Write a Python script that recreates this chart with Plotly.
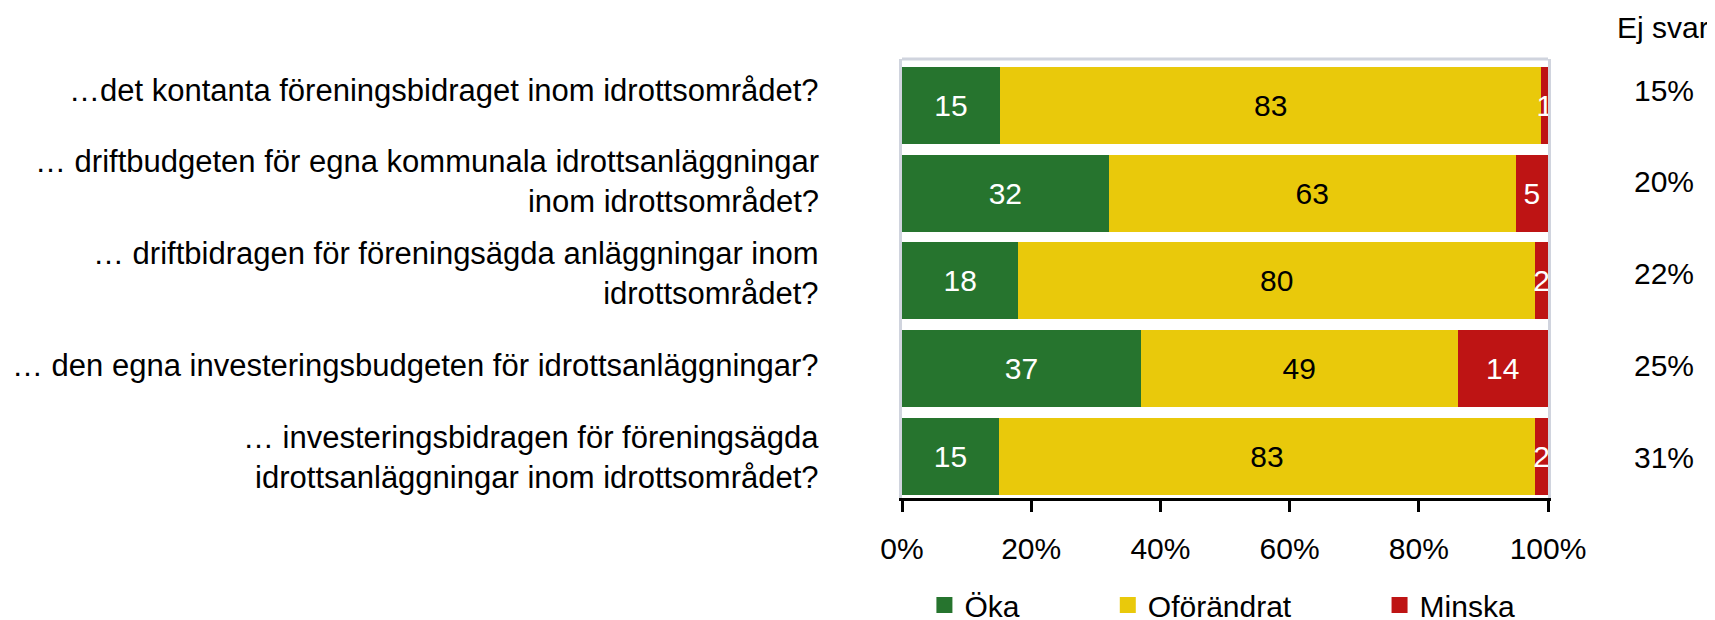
import plotly.graph_objects as go

categories = [
    "…det kontanta föreningsbidraget inom idrottsområdet?",
    "… driftbudgeten för egna kommunala idrottsanläggningar<br>inom idrottsområdet?",
    "… driftbidragen för föreningsägda anläggningar inom<br>idrottsområdet?",
    "… den egna investeringsbudgeten för idrottsanläggningar?",
    "… investeringsbidragen för föreningsägda<br>idrottsanläggningar inom idrottsområdet?",
]
oka = [15, 32, 18, 37, 15]
oforandrat = [83, 63, 80, 49, 83]
minska = [1, 5, 2, 14, 2]
ej_svar = [15, 20, 22, 25, 31]
tick_vals = [0, 20, 40, 60, 80, 100]
tick_text = ["0%", "20%", "40%", "60%", "80%", "100%"]

GREEN = "rgb(38,116,46)"
YELLOW = "rgb(233,201,11)"
RED = "rgb(190,20,20)"
FONT = "Liberation Sans, Arial, sans-serif"
FS = 30

OFF = 8  # page body margin offset
W, H = 1715, 620
L, R, T, B = 902 - OFF, 1548 - OFF, 59 - OFF, 498 - OFF

fig = go.Figure()
series = [("Öka", oka, GREEN, "white"),
          ("Oförändrat", oforandrat, YELLOW, "black"),
          ("Minska", minska, RED, "white")]
for name, vals, col, tcol in series:
    fig.add_trace(go.Bar(
        y=categories, x=vals, orientation="h", name=name,
        marker=dict(color=col, line=dict(width=0)),
        text=[str(v) for v in vals], textposition="inside",
        insidetextanchor="middle", texttemplate="%{text}",
        textfont=dict(color=tcol, size=FS, family=FONT),
        showlegend=False, hoverinfo="skip",
    ))
# legend entries with larger square symbols
PAD = "\u00a0" * 10
for i, (name, vals, col, tcol) in enumerate(series):
    fig.add_trace(go.Scatter(
        x=[None], y=[None], mode="markers",
        name=name + (PAD if i < len(series) - 1 else ""),
        marker=dict(symbol="square", size=20, color=col),
        showlegend=True, hoverinfo="skip",
    ))

n = len(categories)
shift = 0.028
fig.update_layout(
    width=W, height=H,
    margin=dict(l=L, r=W - R, t=T, b=H - B, pad=0, autoexpand=False),
    barmode="stack", barnorm="percent", bargap=0.123,
    plot_bgcolor="white", paper_bgcolor="white",
    font=dict(family=FONT, size=FS, color="black"),
    uniformtext=dict(minsize=FS, mode="show"),
    legend=dict(orientation="h", x=0.496, xanchor="center",
                y=-(605 - OFF - B) / (B - T), yanchor="middle",
                font=dict(size=FS), traceorder="normal",
                itemsizing="trace"),
)
fig.update_xaxes(
    range=[0, 100], tickvals=tick_vals, ticktext=tick_text,
    showgrid=False, zeroline=False,
    showline=True, linecolor="black", linewidth=3,
    ticks="outside", ticklen=11, tickwidth=3, tickcolor="black",
    ticklabelstandoff=11, tickfont=dict(size=FS),
)
fig.update_yaxes(
    type="category", range=[n - 0.5 - shift, -0.5 - shift],
    showgrid=False, zeroline=False, showticklabels=False,
    showline=True, linecolor="rgb(208,212,222)", linewidth=3, mirror=True,
    ticks="",
)
# top frame line
fig.add_shape(type="line", xref="paper", yref="paper", x0=0, x1=1, y0=1, y1=1,
              line=dict(color="rgb(208,212,222)", width=3))

# row label positions (pixels from top, screen)
top_px, bot_px = 90 - OFF, 457 - OFF
xc = (1664 - OFF - L) / (R - L)
xl = (821 - OFF - L) / (R - L)
fig.add_annotation(text="Ej svar", xref="paper", yref="paper",
                   x=(1663 - OFF - L) / (R - L), y=(B - (27 - OFF)) / (B - T),
                   showarrow=False, xanchor="center", yanchor="middle",
                   font=dict(size=FS))
for i, (cat, v) in enumerate(zip(categories, ej_svar)):
    ypx = top_px + i * (bot_px - top_px) / (n - 1)
    yp = (B - ypx) / (B - T)
    fig.add_annotation(text=cat, xref="paper", yref="paper",
                       x=xl, y=yp, showarrow=False, align="right",
                       xanchor="right", yanchor="middle", font=dict(size=31))
    fig.add_annotation(text=f"{v}%", xref="paper", yref="paper",
                       x=xc, y=yp, showarrow=False,
                       xanchor="center", yanchor="middle", font=dict(size=FS))

fig.write_html("out.html")
